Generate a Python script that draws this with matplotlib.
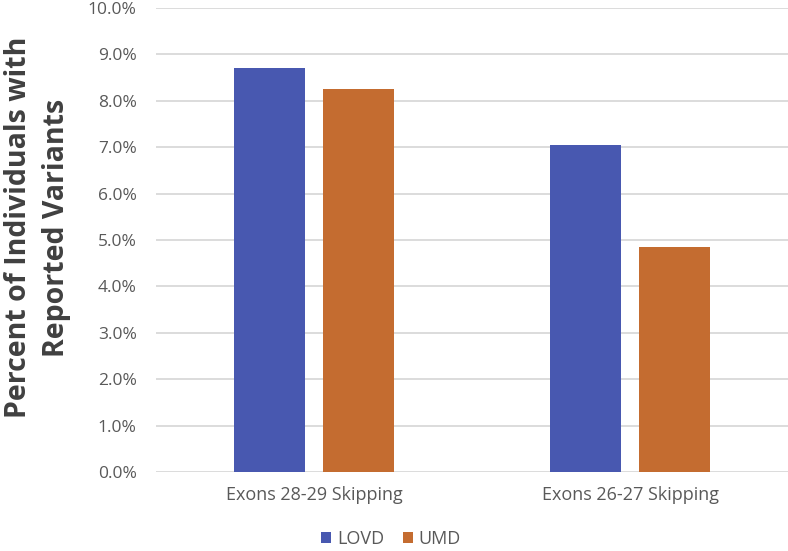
import numpy as np
import matplotlib.pyplot as plt
from matplotlib.ticker import PercentFormatter

categories = ['Exons 28-29 Skipping', 'Exons 26-27 Skipping']
lovd = [8.70, 7.05]
umd = [8.25, 4.85]
series_names = ['LOVD', 'UMD']
colors = ['#4858B0', '#C46C30']


def main():
    plt.rcParams['font.family'] = ['Open Sans', 'DejaVu Sans']
    fig = plt.figure(figsize=(7.88, 5.51), dpi=100)
    ax = fig.add_axes([0.198, 0.1434, 0.802, 0.8421])

    x = np.arange(len(categories))
    width = 0.225
    offset = 0.1415
    ax.bar(x - offset, lovd, width, color=colors[0], label=series_names[0], zorder=3)
    ax.bar(x + offset, umd, width, color=colors[1], label=series_names[1], zorder=3)

    ax.set_xlim(-0.5, 1.5)
    ax.set_ylim(0, 10)
    ax.set_yticks(np.arange(0, 10.1, 1))
    ax.yaxis.set_major_formatter(PercentFormatter(decimals=1))
    ax.set_xticks(x)
    ax.set_xticklabels(categories)
    ax.grid(axis='y', color='#D9D9D9', linewidth=1.3, zorder=0)
    for s in ax.spines.values():
        s.set_visible(False)
    ax.tick_params(axis='y', length=0, labelsize=12.5, colors='#595959', pad=14)
    ax.tick_params(axis='x', length=0, labelsize=13, colors='#595959', pad=10)

    # y label placed by hand so it lines up with the reference
    fig.text(0.048, 0.587, 'Percent of Individuals with\nReported Variants', rotation=90,
             ha='center', va='center', fontsize=20.5, fontweight='bold', color='#404040',
             linespacing=1.4)

    ax.legend(loc='upper center', bbox_to_anchor=(0.372, -0.117), ncol=2, frameon=False,
              fontsize=13, handlelength=0.55, handleheight=0.55, columnspacing=1.0,
              handletextpad=0.35, labelcolor='#595959', borderaxespad=0, borderpad=0.2)

    fig.savefig('out.png', dpi=100)


if __name__ == '__main__':
    main()
